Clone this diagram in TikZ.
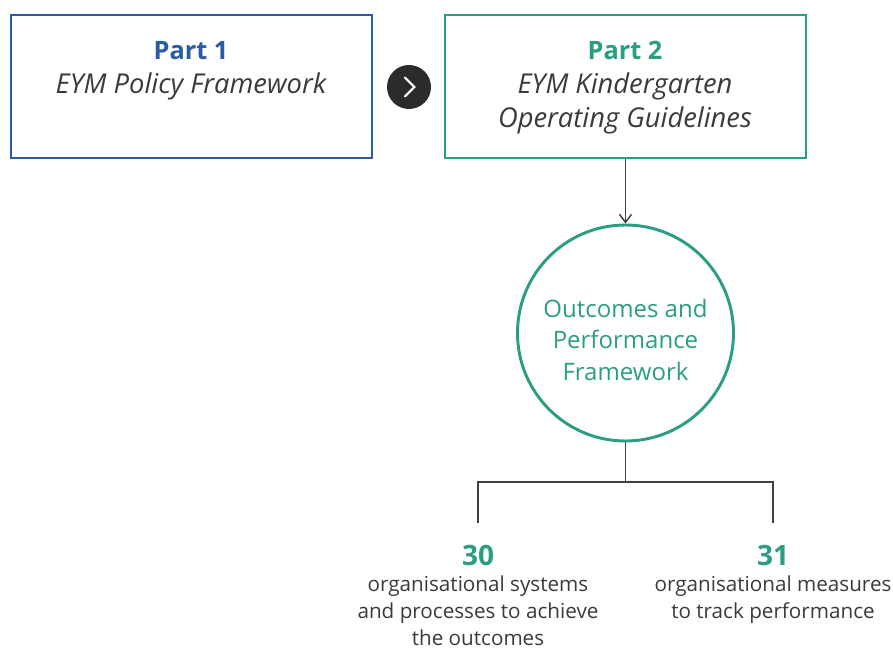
\documentclass[tikz,border=0pt]{standalone}
\usepackage{fontspec}
\setmainfont{Open Sans}
\usetikzlibrary{positioning,arrows.meta}

\definecolor{partblue}{HTML}{2A5CA0}
\definecolor{partteal}{HTML}{2A9D82}
\definecolor{linegray}{HTML}{404040}
\definecolor{textgray}{HTML}{3A3A3A}
\definecolor{chevfill}{HTML}{2B2B2B}

\newcommand{\subtitle}{\fontsize{20.5}{25.5}\selectfont\itshape}

\tikzset{
	partbox/.style={draw, line width=2pt, minimum width=270.75pt, minimum height=107.25pt, inner sep=0pt},
	parttext/.style={anchor=north, align=center, inner sep=0pt, text=textgray, font=\fontsize{19}{25.5}\selectfont},
	numtext/.style={anchor=north, inner sep=0pt, text=partteal, font=\fontsize{21}{25}\selectfont\bfseries},
	desctext/.style={anchor=north, align=center, inner sep=0pt, text=textgray, font=\fontsize{15.5}{20.3}\selectfont},
	link/.style={draw=linegray, line width=1.1pt}
}

\begin{document}
\begin{tikzpicture}[x=0.75pt, y=-0.75pt]
	\useasboundingbox (0,0) rectangle (893,648);

	% the two parts
	\node[partbox, draw=partblue] (part1) at (191.5,86.5) {};
	\node[partbox, draw=partteal] (part2) at (625.5,86.5) {};
	\node[parttext] (part1lbl) at (191,41) {{\bfseries\color{partblue}Part 1}\\ \subtitle EYM Policy Framework};
	\node[parttext] (part2lbl) at (625,41) {{\bfseries\color{partteal}Part 2}\\ \subtitle EYM Kindergarten\\ \subtitle Operating Guidelines};

	% chevron between the parts
	\node[circle, fill=chevfill, minimum size=33pt, inner sep=0pt] (chev) at (409,87) {};
	\draw[white, line width=1.6pt, line cap=round, line join=miter] ([xshift=-3pt, yshift=7pt]chev.center) -- ([xshift=4pt]chev.center) -- ([xshift=-3pt, yshift=-7pt]chev.center);

	% outcomes circle
	\node[circle, draw=partteal, line width=2.2pt, minimum size=162pt, inner sep=0pt] (ofc) at (625.5,333) {};
	\node[align=center, inner sep=0pt, text=partteal, font=\fontsize{18}{23.5}\selectfont] (ofclbl) at (625.5,340) {Outcomes and\\ Performance\\ Framework};
	\draw[link, -{Straight Barb[length=6pt, width=9pt]}] (part2) -- (ofc);

	% split into the two counts
	\coordinate (fork) at (625.5,482);
	\coordinate (leg30) at (478,523);
	\coordinate (leg31) at (773,523);
	\draw[link] (ofc.south) -- (fork);
	\draw[link] (leg30) -- (leg30 |- fork) -- (leg31 |- fork) -- (leg31);

	\node[numtext] (num30) at (478,545) {30};
	\node[numtext] (num31) at (773,545) {31};
	\node[desctext, below=7pt of num30] (desc30) {organisational systems\\ and processes to achieve\\ the outcomes};
	\node[desctext, below=7pt of num31] (desc31) {organisational measures\\ to track performance};
\end{tikzpicture}
\end{document}
